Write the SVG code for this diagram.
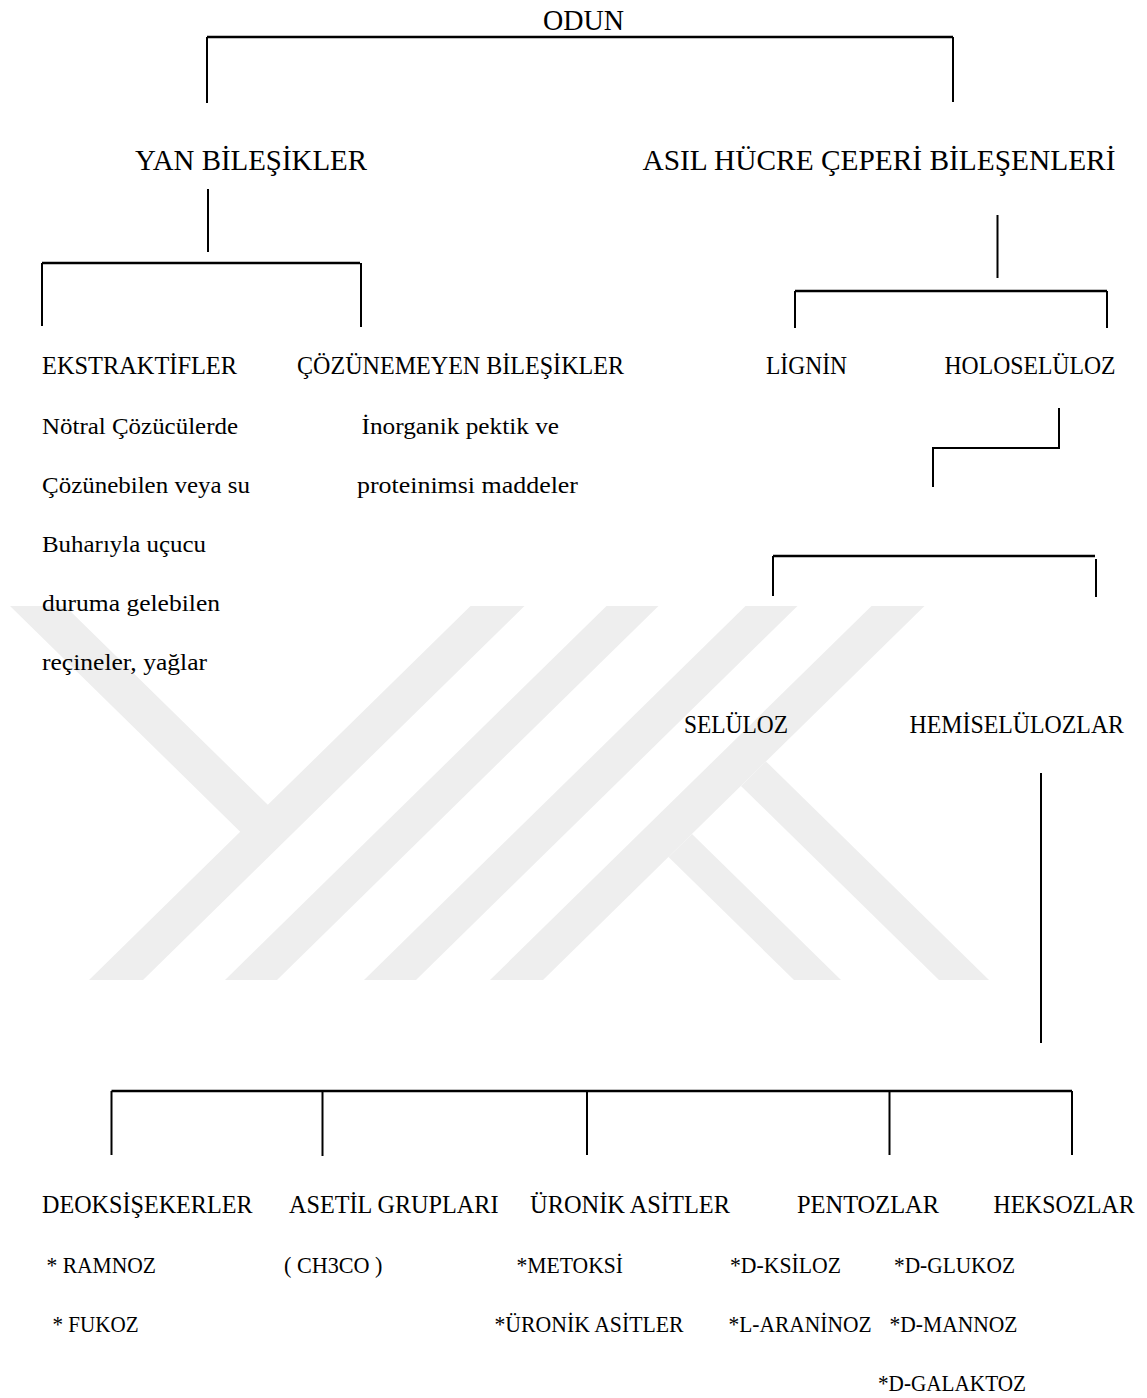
<svg xmlns="http://www.w3.org/2000/svg" width="1147" height="1398" viewBox="0 0 1147 1398">
<style>
text{font-family:"Liberation Serif","Times New Roman",serif;fill:#000;}
.big{font-size:30px;}
.mid{font-size:26px;}
.sm{font-size:23.5px;}
.ln{stroke:#000;stroke-width:2;fill:none;}
.hl{stroke:#000;stroke-width:2.5;fill:none;}
.wm{fill:#eeeeee;stroke:none;}
</style>
<rect width="1147" height="1398" fill="#fff"/>
<g id="watermark">
<polygon class="wm" points="10,606 65,606 267.8,804.8 470.5,606 524.5,606 143,980 89,980 240.2,831.7"/>
<polygon class="wm" points="606.5,606 658.5,606 277,980 225,980"/>
<polygon class="wm" points="745.5,606 797.5,606 416,980 364,980"/>
<polygon class="wm" points="871.5,606 924.5,606 543,980 490,980"/>
<polygon class="wm" points="741,785.9 766,761.4 989,980 939,980"/>
<polygon class="wm" points="668.5,857 692,833.9 841,980 794,980"/>
</g>
<g id="connectors">
<line class="hl" x1="207" y1="37" x2="953" y2="37"/>
<line class="ln" x1="207" y1="37" x2="207" y2="103"/>
<line class="ln" x1="953" y1="37" x2="953" y2="102"/>
<line class="ln" x1="208" y1="189" x2="208" y2="252"/>
<line class="hl" x1="42" y1="263" x2="360" y2="263"/>
<line class="ln" x1="42" y1="263" x2="42" y2="326"/>
<line class="ln" x1="361" y1="263" x2="361" y2="327"/>
<line class="ln" x1="997.5" y1="215" x2="997.5" y2="278"/>
<line class="hl" x1="795" y1="291" x2="1107" y2="291"/>
<line class="ln" x1="795" y1="291" x2="795" y2="328"/>
<line class="ln" x1="1107" y1="291" x2="1107" y2="328"/>
<polyline class="ln" points="1059,408 1059,448 933,448 933,487"/>
<line class="hl" x1="773" y1="556" x2="1095" y2="556"/>
<line class="ln" x1="773" y1="556" x2="773" y2="596"/>
<line class="ln" x1="1096" y1="559" x2="1096" y2="597"/>
<line class="ln" x1="1041" y1="773" x2="1041" y2="1043"/>
<line class="hl" x1="111.5" y1="1091" x2="1072" y2="1091"/>
<line class="ln" x1="111.5" y1="1091" x2="111.5" y2="1155"/>
<line class="ln" x1="322.5" y1="1092" x2="322.5" y2="1156"/>
<line class="ln" x1="587" y1="1091" x2="587" y2="1155"/>
<line class="ln" x1="889.5" y1="1091" x2="889.5" y2="1155"/>
<line class="ln" x1="1072" y1="1091" x2="1072" y2="1155"/>
</g>
<g id="odun"><text class="big" x="543" y="30" textLength="81" lengthAdjust="spacingAndGlyphs">ODUN</text></g>
<g id="yan"><text class="big" x="135" y="170" textLength="232" lengthAdjust="spacingAndGlyphs">YAN BİLEŞİKLER</text></g>
<g id="asil"><text class="big" x="642.5" y="170" textLength="473" lengthAdjust="spacingAndGlyphs">ASIL HÜCRE ÇEPERİ BİLEŞENLERİ</text></g>
<g id="ekstraktifler">
<text class="mid" x="42" y="374" textLength="195" lengthAdjust="spacingAndGlyphs">EKSTRAKTİFLER</text>
<text class="sm" x="42" y="434" textLength="196" lengthAdjust="spacingAndGlyphs">Nötral Çözücülerde</text>
<text class="sm" x="42" y="493" textLength="208" lengthAdjust="spacingAndGlyphs">Çözünebilen veya su</text>
<text class="sm" x="42" y="552" textLength="164" lengthAdjust="spacingAndGlyphs">Buharıyla uçucu</text>
<text class="sm" x="42" y="611" textLength="178" lengthAdjust="spacingAndGlyphs">duruma gelebilen</text>
<text class="sm" x="42" y="670" textLength="165" lengthAdjust="spacingAndGlyphs">reçineler, yağlar</text>
</g>
<g id="cozunemeyen">
<text class="mid" x="297" y="374" textLength="327" lengthAdjust="spacingAndGlyphs">ÇÖZÜNEMEYEN BİLEŞİKLER</text>
<text class="sm" x="361.5" y="434" textLength="197.5" lengthAdjust="spacingAndGlyphs">İnorganik pektik ve</text>
<text class="sm" x="357" y="493" textLength="221" lengthAdjust="spacingAndGlyphs">proteinimsi maddeler</text>
</g>
<g id="lignin"><text class="mid" x="766" y="374" textLength="81" lengthAdjust="spacingAndGlyphs">LİGNİN</text></g>
<g id="holoseluloz"><text class="mid" x="944.5" y="374" textLength="171" lengthAdjust="spacingAndGlyphs">HOLOSELÜLOZ</text></g>
<g id="seluloz"><text class="mid" x="684" y="733" textLength="104" lengthAdjust="spacingAndGlyphs">SELÜLOZ</text></g>
<g id="hemiseluloz"><text class="mid" x="909.5" y="733" textLength="214.5" lengthAdjust="spacingAndGlyphs">HEMİSELÜLOZLAR</text></g>
<g id="deoksisekerler">
<text class="mid" x="42" y="1213" textLength="210.5" lengthAdjust="spacingAndGlyphs">DEOKSİŞEKERLER</text>
<text class="sm" x="46.5" y="1273" textLength="109.5" lengthAdjust="spacingAndGlyphs">* RAMNOZ</text>
<text class="sm" x="52.5" y="1332" textLength="86" lengthAdjust="spacingAndGlyphs">* FUKOZ</text>
</g>
<g id="asetil">
<text class="mid" x="289" y="1213" textLength="209.5" lengthAdjust="spacingAndGlyphs">ASETİL GRUPLARI</text>
<text class="sm" x="284" y="1273" textLength="98.5" lengthAdjust="spacingAndGlyphs">( CH3CO )</text>
</g>
<g id="uronik">
<text class="mid" x="530" y="1213" textLength="200" lengthAdjust="spacingAndGlyphs">ÜRONİK ASİTLER</text>
<text class="sm" x="516.5" y="1273" textLength="106.5" lengthAdjust="spacingAndGlyphs">*METOKSİ</text>
<text class="sm" x="494.5" y="1332" textLength="189" lengthAdjust="spacingAndGlyphs">*ÜRONİK ASİTLER</text>
</g>
<g id="pentozlar">
<text class="mid" x="797" y="1213" textLength="142" lengthAdjust="spacingAndGlyphs">PENTOZLAR</text>
<text class="sm" x="730" y="1273" textLength="111" lengthAdjust="spacingAndGlyphs">*D-KSİLOZ</text>
<text class="sm" x="728.5" y="1332" textLength="143" lengthAdjust="spacingAndGlyphs">*L-ARANİNOZ</text>
</g>
<g id="heksozlar">
<text class="mid" x="993.5" y="1213" textLength="141" lengthAdjust="spacingAndGlyphs">HEKSOZLAR</text>
<text class="sm" x="894" y="1273" textLength="121" lengthAdjust="spacingAndGlyphs">*D-GLUKOZ</text>
<text class="sm" x="889.5" y="1332" textLength="128" lengthAdjust="spacingAndGlyphs">*D-MANNOZ</text>
<text class="sm" x="878" y="1391" textLength="148" lengthAdjust="spacingAndGlyphs">*D-GALAKTOZ</text>
</g>
</svg>
